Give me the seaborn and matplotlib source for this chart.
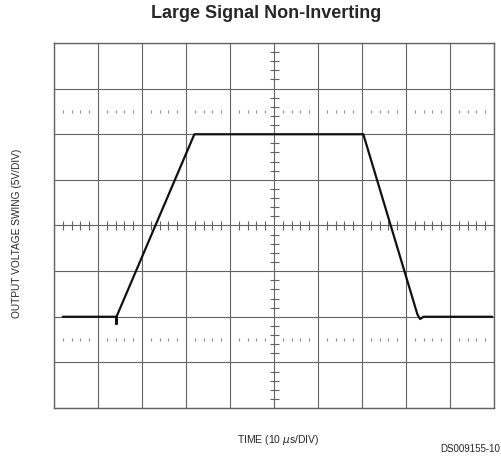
import numpy as np
import pandas as pd
import seaborn as sns
import matplotlib.pyplot as plt

# waveform, in divisions (x: 10 div, y: 8 div)
wave_time = [0.2, 1.42, 1.42, 1.42, 3.19, 7.03, 8.26, 8.32, 8.40, 9.96]
wave_level = [2.0, 2.0, 1.84, 2.0, 6.0, 6.0, 2.05, 1.95, 2.0, 2.0]

x_divs = 10
y_divs = 8
dotted_rows = [1.5, 6.5]

title = "Large Signal Non-Inverting"
x_label = "TIME (10 $\\mu$s/DIV)"
y_label = "OUTPUT VOLTAGE SWING (5V/DIV)"
doc_id = "DS009155-10"

sns.set_style("white")
plt.rcParams['font.family'] = ['Liberation Sans', 'DejaVu Sans']

fig = plt.figure(figsize=(5.01, 4.61), dpi=100)
ax = fig.add_axes([54 / 501, 53 / 461, 440 / 501, 365 / 461])

grid_col = "#626262"
ax.set_xlim(0, x_divs)
ax.set_ylim(0, y_divs)
ax.set_xticks(np.arange(0, x_divs + 1))
ax.set_yticks(np.arange(0, y_divs + 1))
ax.grid(True, color=grid_col, lw=0.8)
ax.tick_params(left=False, bottom=False, labelleft=False, labelbottom=False)
for s in ax.spines.values():
    s.set_color(grid_col)
    s.set_linewidth(1.0)

# graticule: minor ticks along the center lines
cx, cy = x_divs / 2, y_divs / 2
minor_x = [v for v in np.arange(0, x_divs, 0.2) if abs(v - round(v)) > 1e-6]
minor_y = [v for v in np.arange(0, y_divs, 0.2) if abs(v - round(v)) > 1e-6]
tx = 4.5 / 45.6
ty = 4.5 / 44
ax.vlines(minor_x, cy - tx, cy + tx, color=grid_col, lw=0.8)
ax.hlines(minor_y, cx - ty, cx + ty, color=grid_col, lw=0.8)

# dotted rows
dot = 1.2 / 45.6
for r in dotted_rows:
    ax.vlines(minor_x, r - dot, r + dot, color="#8a8a8a", lw=0.8)

df = pd.DataFrame({"t": wave_time, "v": wave_level})
sns.lineplot(data=df, x="t", y="v", sort=False, estimator=None,
             color="#111111", lw=1.6, ax=ax)
ax.set_xlabel("")
ax.set_ylabel("")

fig.text(266 / 501, 1 - 13 / 461, title, ha="center", va="center",
         fontsize=13, fontweight="bold")
fig.text(278 / 501, 1 - 440 / 461, x_label, ha="center", va="center",
         fontsize=7.5)
fig.text(17 / 501, 1 - 233 / 461, y_label, ha="center", va="center",
         rotation=90, fontsize=7.3)
fig.text(500 / 501, 1 - 449 / 461, doc_id, ha="right", va="center",
         fontsize=7)

fig.savefig("out.png", dpi=100)
